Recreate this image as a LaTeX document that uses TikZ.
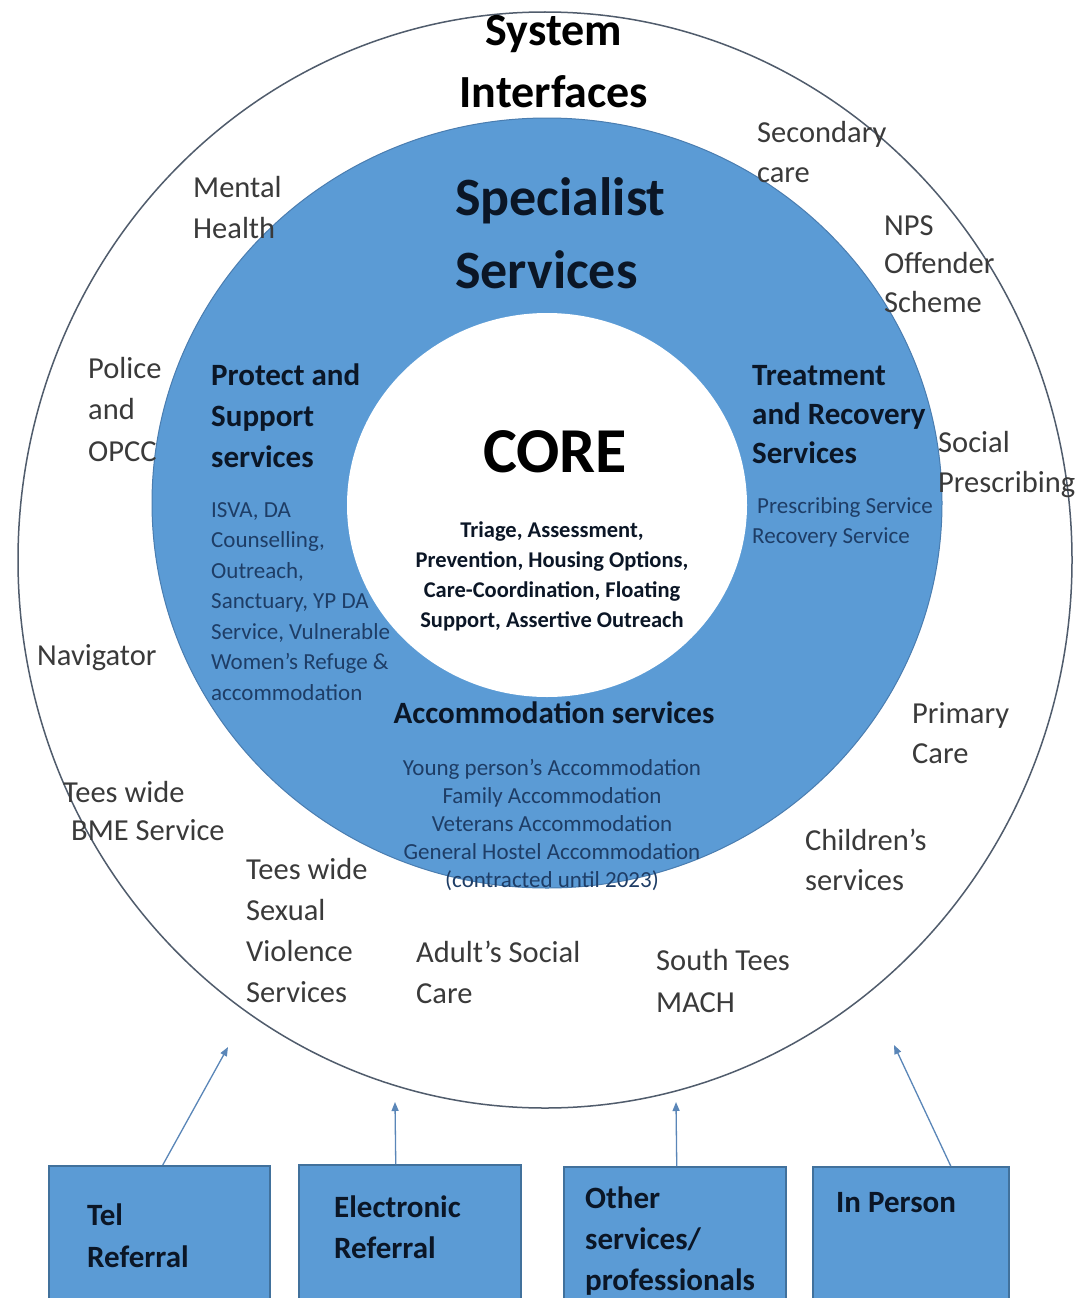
\documentclass[tikz,border=0pt]{standalone}
\usepackage{fontspec}
\setmainfont{Carlito}
\usetikzlibrary{shapes.geometric,arrows.meta}
\definecolor{ringblue}{HTML}{5B9BD5}
\definecolor{ringedge}{HTML}{4A7DB0}
\definecolor{outerline}{HTML}{505C6C}
\definecolor{lblgray}{HTML}{3A3A3A}
\definecolor{titlenavy}{HTML}{0B1626}
\definecolor{subblue}{HTML}{1E3D66}
\definecolor{boxedge}{HTML}{41719C}
\definecolor{arrowblue}{HTML}{5A86B8}
\tikzset{
  outerlbl/.style={anchor=base west, align=left, inner sep=0pt, text=lblgray,
    font=\fontsize{30.5}{41}\selectfont},
  ringtitle/.style={anchor=base west, align=left, inner sep=0pt, text=titlenavy,
    font=\bfseries\fontsize{31}{41}\selectfont},
  ringsub/.style={anchor=base west, align=left, inner sep=0pt, text=subblue,
    font=\fontsize{23}{30.5}\selectfont},
  boxlbl/.style={anchor=base west, align=left, inner sep=0pt, text=titlenavy,
    font=\bfseries\fontsize{31}{41}\selectfont},
  refbox/.style={rectangle, fill=ringblue, draw=boxedge, line width=1.5pt,
    anchor=north west, minimum height=150pt, inner sep=0pt},
  arr/.style={draw=arrowblue, line width=1.3pt, -{Triangle[length=9pt,width=7pt]}}
}
\begin{document}
\begin{tikzpicture}[x=1pt,y=-1pt]
\useasboundingbox (0,0) rectangle (1079,1298);
\fill[white] (0,0) rectangle (1079,1298);

% rings
\node[ellipse, draw=outerline, line width=1.5pt, minimum width=1054pt,
      minimum height=1096pt, inner sep=0pt] (outer) at (545,560) {};
\node[ellipse, fill=ringblue, draw=ringedge, line width=1pt, minimum width=790pt,
      minimum height=770pt, inner sep=0pt] (ring) at (547,503) {};
\node[ellipse, fill=white, minimum width=400pt, minimum height=384pt,
      inner sep=0pt] (core) at (547,505) {};

% headings (multi-line nodes: base anchor = last baseline)
\node[anchor=base, align=center, inner sep=0pt, text=black,
      font=\bfseries\fontsize{46}{62}\selectfont] (sysif) at (554,107) {System\\Interfaces};
\node[anchor=base west, align=left, inner sep=0pt, text=titlenavy,
      font=\bfseries\fontsize{54}{73}\selectfont] (spec) at (455,288) {Specialist\\Services};
\node[anchor=base, inner sep=0pt, text=black,
      font=\bfseries\fontsize{64}{70}\selectfont] (coret) at (555,472) {CORE};
\node[anchor=base, align=center, inner sep=0pt, text=titlenavy,
      font=\bfseries\fontsize{22.5}{30}\selectfont] (coresub) at (552,627)
      {Triage, Assessment,\\Prevention, Housing Options,\\Care-Coordination, Floating\\Support, Assertive Outreach};

% ring sections
\node[ringtitle] (protect) at (211,467) {Protect and\\Support\\services};
\node[ringsub] (protectsub) at (211,700)
  {ISVA, DA\\Counselling,\\Outreach,\\Sanctuary, YP DA\\Service, Vulnerable\\Women’s Refuge \&\\accommodation};
\node[ringtitle, font=\bfseries\fontsize{31}{39}\selectfont] (treat) at (752,463) {Treatment\\and Recovery\\Services};
\node[ringsub, font=\fontsize{23}{30}\selectfont] (treatsub) at (752,543)
  {\hspace*{5pt}Prescribing Service\\Recovery Service};
\node[ringtitle, anchor=base] (accom) at (554,723) {Accommodation services};
\node[ringsub, anchor=base, align=center, font=\fontsize{23}{28}\selectfont] (accomsub) at (552,887)
  {Young person’s Accommodation\\Family Accommodation\\Veterans Accommodation\\General Hostel Accommodation\\(contracted until 2023)};

% outer labels
\node[outerlbl] (mental) at (193,238) {Mental\\Health};
\node[outerlbl, font=\fontsize{30.5}{40}\selectfont] (second) at (757,182) {Secondary\\care};
\node[outerlbl, font=\fontsize{30.5}{38.5}\selectfont] (nps) at (884,312) {NPS\\Offender\\Scheme};
\node[outerlbl, font=\fontsize{30.5}{41.5}\selectfont] (police) at (88,461) {Police\\and\\OPCC};
\node[outerlbl, font=\fontsize{30.5}{40}\selectfont] (social) at (938,492) {Social\\Prescribing};
\node[outerlbl] (navig) at (37,665) {Navigator};
\node[outerlbl, font=\fontsize{30.5}{40}\selectfont] (primary) at (912,763) {Primary\\Care};
\node[outerlbl] (teesbme) at (63,802) {Tees wide};
\node[outerlbl] (bme) at (71,840) {BME Service};
\node[outerlbl, font=\fontsize{30.5}{40}\selectfont] (children) at (805,890) {Children’s\\services};
\node[outerlbl] (teessv) at (246,1002) {Tees wide\\Sexual\\Violence\\Services};
\node[outerlbl] (adult) at (416,1003) {Adult’s Social\\Care};
\node[outerlbl, font=\fontsize{30.5}{42}\selectfont] (south) at (656,1012) {South Tees\\MACH};

% referral boxes
\node[refbox, minimum width=221pt] (tel) at (48,1165) {};
\node[refbox, minimum width=222pt] (elec) at (298,1164) {};
\node[refbox, minimum width=222pt] (other) at (563,1166) {};
\node[refbox, minimum width=196pt] (person) at (812,1166) {};

\node[boxlbl, font=\bfseries\fontsize{31}{42}\selectfont] (tellbl) at (87,1267) {Tel\\Referral};
\node[boxlbl] (eleclbl) at (334,1258) {Electronic\\Referral};
\node[boxlbl] (otherlbl) at (585,1290) {Other\\services/\\professionals};
\node[boxlbl] (personlbl) at (836,1212) {In Person};

% arrows
\coordinate (telend) at (228,1047);
\coordinate (elecend) at (395,1102);
\coordinate (otherend) at (676,1102);
\coordinate (personend) at (894,1045);
\draw[arr] ([xshift=3.5pt]tel.north) -- (telend);
\draw[arr] ([xshift=-14pt]elec.north) -- (elecend);
\draw[arr] ([xshift=2pt]other.north) -- (otherend);
\draw[arr] ([xshift=40pt]person.north) -- (personend);
\end{tikzpicture}
\end{document}
